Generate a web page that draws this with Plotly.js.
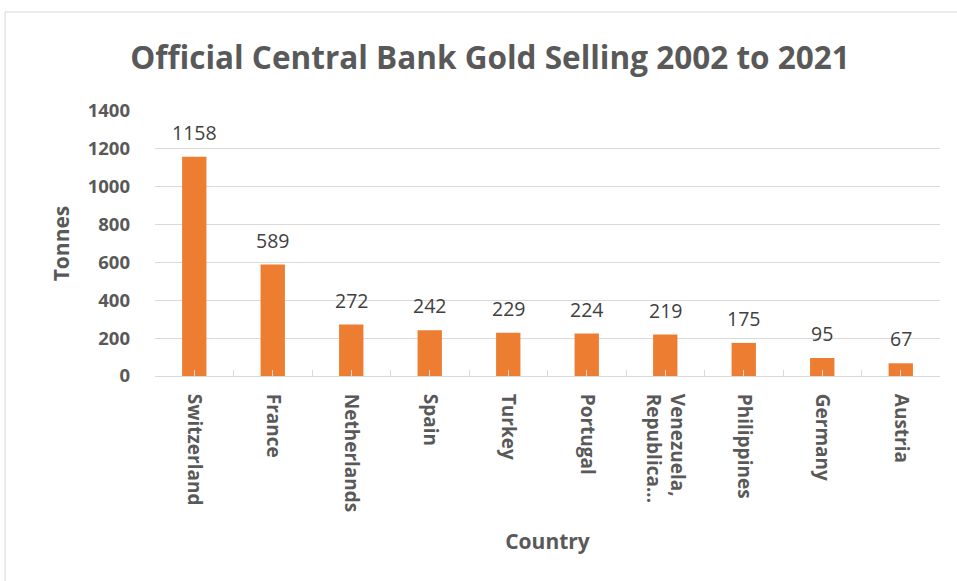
<!DOCTYPE html>
<html>
<head>
<meta charset="utf-8">
<script src="https://cdn.plot.ly/plotly-3.0.1.min.js"></script>
<style>html,body{margin:0;padding:0;background:#fff;}#chart{width:957px;height:581px;}</style>
</head>
<body>
<div id="chart"></div>
<script>
const countries = ["Switzerland", "France", "Netherlands", "Spain", "Turkey", "Portugal", "Venezuela,<br>Republica...", "Philippines", "Germany", "Austria"];
const tonnes = [1158, 589, 272, 242, 229, 224, 219, 175, 95, 67];
const yTicks = [0, 200, 400, 600, 800, 1000, 1200, 1400];

const FONT = "Open Sans, sans-serif";
const GRAY = "#595959";

const trace = {
  type: "bar",
  x: countries,
  y: tonnes,
  marker: {color: "#ED7D31"},
  hoverinfo: "x+y"
};
const tickTrace = {
  type: "bar", x: countries, y: tonnes.map(() => 0), xaxis: "x2", yaxis: "y",
  marker: {color: "rgba(0,0,0,0)"}, hoverinfo: "skip", showlegend: false
};

const annotations = countries.map((c, i) => ({
  x: c, y: tonnes[i], xref: "x", yref: "y",
  text: String(tonnes[i]), showarrow: false,
  yanchor: "bottom", yshift: 9,
  font: {family: FONT, size: 19.5, color: "#404040"}
}));

const layout = {
  width: 957, height: 581,
  margin: {l: 155, r: 17, t: 111, b: 205},
  paper_bgcolor: "#fff", plot_bgcolor: "#fff",
  showlegend: false,
  bargap: 0.69,
  title: {text: "<b>Official Central Bank Gold Selling 2002 to 2021</b>",
          font: {family: FONT, size: 31.5, color: GRAY}, x: 0.512, xanchor: "center", y: 0.9, yanchor: "middle"},
  xaxis: {
    type: "category",
    showgrid: false, zeroline: false,
    showline: true, linecolor: "#d9d9d9", linewidth: 1,
    ticks: "inside", tickson: "boundaries", ticklen: 6, tickcolor: "#d9d9d9",
    tickangle: 90,
    ticklabelstandoff: 13,
    tickfont: {family: FONT, size: 19, color: GRAY, weight: "bold"},
    title: {text: "<b>Country</b>", font: {family: FONT, size: 21, color: GRAY}, standoff: 23},
    fixedrange: true
  },
  xaxis2: {
    type: "category", overlaying: "x", anchor: "y", matches: "x",
    showgrid: false, zeroline: false, showline: false, showticklabels: false,
    ticks: "inside", ticklen: 6, tickcolor: "#d9d9d9", layer: "above traces"
  },
  yaxis: {
    range: [0, 1400], tickvals: yTicks, ticktext: yTicks.map(String),
    showgrid: true, gridcolor: "#d9d9d9", gridwidth: 1,
    zeroline: false, showline: false, ticks: "",
    tickfont: {family: FONT, size: 18.5, color: GRAY, weight: "bold"},
    ticklabelstandoff: 24,
    title: {text: "<b>Tonnes</b>", font: {family: FONT, size: 21, color: GRAY}, standoff: 12},
    fixedrange: true
  },
  annotations: annotations,
  shapes: [{
    type: "rect", xref: "paper", yref: "paper",
    x0: -0.191, x1: 1.2, y0: -1.0, y1: 1.3736,
    line: {color: "#d9d9d9", width: 1}, fillcolor: "rgba(0,0,0,0)", layer: "below"
  }]
};

Plotly.newPlot("chart", [trace, tickTrace], layout, {displayModeBar: false, staticPlot: true});
</script>
</body>
</html>
